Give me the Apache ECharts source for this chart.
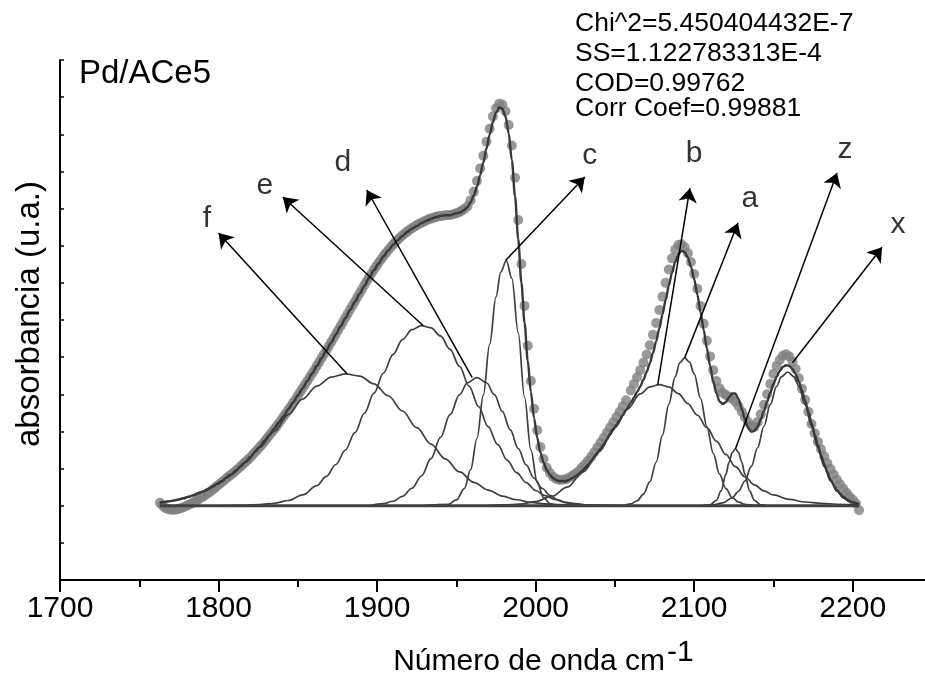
<!DOCTYPE html>
<html>
<head>
<meta charset="utf-8">
<script src="https://cdn.jsdelivr.net/npm/echarts@6/dist/echarts.min.js"></script>
<style>html,body{margin:0;padding:0;background:#fff}#c{width:925px;height:684px}</style>
</head>
<body>
<div id="c"></div>
<script>
// ---- measured spectrum (wavenumber cm-1, absorbance above baseline, arbitrary units) ----
const dataX = [
1763,1764.5,1766,1767.5,1769,1770.5,1772,1773.5,1775,1776.5,
1778,1779.5,1781,1782.5,1784,1785.5,1787,1788.5,1790,1791.5,
1793,1794.5,1796,1797.5,1799,1800.5,1802,1803.5,1805,1806.5,
1808,1809.5,1811,1812.5,1814,1815.5,1817,1818.5,1820,1821.5,
1823,1824.5,1826,1827.5,1829,1830.5,1832,1833.5,1835,1836.5,
1838,1839.5,1841,1842.5,1844,1845.5,1847,1848.5,1850,1851.5,
1853,1854.5,1856,1857.5,1859,1860.5,1862,1863.5,1865,1866.5,
1868,1869.5,1871,1872.5,1874,1875.5,1877,1878.5,1880,1881.5,
1883,1884.5,1886,1887.5,1889,1890.5,1892,1893.5,1895,1896.5,
1898,1899.5,1901,1902.5,1904,1905.5,1907,1908.5,1910,1911.5,
1913,1914.5,1916,1917.5,1919,1920.5,1922,1923.5,1925,1926.5,
1928,1929.5,1931,1932.5,1934,1935.5,1937,1938.5,1940,1941.5,
1943,1944.5,1946,1947.5,1949,1950.5,1952,1953.5,1955,
1957,1959,1961,1963,1965,1967,1969,1971,1973,1975,
1977,1979,1981,1983,1985,1987,1989,1991,1993,1995,
1997,1999,2001,2003,2005,2007,2009,2011,2013,2015,
2017,2019,2021,2023,2025,2027,2029,2031,2033,2035,
2037,2039,2041,2043,2045,2047,2049,2051,2053,2055,
2057,2060,2062,2064,2066,2068,2070,2072,2074,2076,
2078,2080,2082,2084,2086,2088,2090,2092,2094,2096,
2098,2100,2102,2104,2106,2108,2110,2112,2114,2116,
2118,2120,2122,2124,2126,2128,2130,2132,2134,2136,
2138,2140,2142,2144,2146,2148,2150,2152,2154,2156,
2158,2160,2162,2164,2166,2168,2170,2172,2174,2176,
2178,2180,2182,2184,2186,2188,2190,2192,2194,2196,
2198,2200,2202,2204];

const measured = [
0.08,0.01,-0.05,-0.08,-0.10,-0.11,-0.11,-0.10,-0.08,-0.06,
-0.04,-0.01,0.02,0.05,0.08,0.12,0.16,0.20,0.24,0.28,
0.33,0.37,0.42,0.47,0.53,0.58,0.63,0.68,0.74,0.79,
0.84,0.89,0.95,1.00,1.06,1.12,1.18,1.24,1.30,1.37,
1.44,1.51,1.58,1.65,1.73,1.81,1.89,1.97,2.05,2.13,
2.22,2.31,2.40,2.49,2.58,2.67,2.77,2.86,2.96,3.06,
3.16,3.26,3.36,3.46,3.56,3.66,3.77,3.87,3.98,4.08,
4.19,4.29,4.40,4.51,4.62,4.73,4.84,4.95,5.06,5.17,
5.28,5.39,5.50,5.61,5.72,5.83,5.94,6.05,6.15,6.25,
6.35,6.45,6.54,6.63,6.72,6.80,6.88,6.96,7.03,7.10,
7.16,7.22,7.28,7.33,7.38,7.43,7.47,7.51,7.55,7.59,
7.62,7.65,7.68,7.71,7.73,7.75,7.77,7.79,7.80,7.81,
7.82,7.82,7.83,7.84,7.86,7.88,7.91,7.95,7.99,
8.06,8.22,8.45,8.74,9.08,9.42,9.80,10.15,10.48,10.70,
10.82,10.80,10.62,10.25,9.70,8.83,7.69,6.51,5.38,4.31,
3.36,2.61,2.03,1.58,1.26,1.02,0.88,0.78,0.72,0.69,
0.70,0.71,0.75,0.80,0.86,0.93,1.02,1.11,1.21,1.32,
1.44,1.57,1.70,1.83,1.97,2.11,2.25,2.39,2.53,2.68,
2.84,3.10,3.28,3.46,3.65,3.85,4.07,4.32,4.60,4.92,
5.27,5.63,6.00,6.36,6.66,6.89,7.02,7.04,6.96,6.80,
6.56,6.24,5.84,5.38,4.90,4.44,4.02,3.65,3.36,3.16,
3.04,2.98,2.93,2.88,2.80,2.68,2.53,2.38,2.25,2.15,
2.12,2.25,2.46,2.72,3.00,3.28,3.55,3.77,3.93,4.04,
4.08,4.02,3.88,3.68,3.43,3.15,2.85,2.53,2.20,1.95,
1.72,1.52,1.33,1.15,0.99,0.84,0.70,0.58,0.46,0.35,
0.25,0.16,0.06,-0.12];

// ---- fitted envelope ----
const fitX = [
1763,1766,1769,1772,1775,1778,1781,1784,1787,1790,
1793,1796,1799,1802,1805,1808,1811,1814,1817,1820,
1823,1826,1829,1832,1835,1838,1841,1844,1847,1850,
1853,1856,1859,1862,1865,1868,1871,1874,1877,1880,
1883,1886,1889,1892,1895,1898,1901,1904,1907,1910,
1913,1916,1919,1922,1925,1928,1931,1934,1937,1940,
1943,1946,1949,1952,1955,
1957,1959,1961,1963,1965,1967,1969,1971,1973,1975,
1977,1979,1981,1983,1985,1987,1989,1991,1993,1995,
1997,1999,2001,2003,2005,2007,2009,2011,2013,2015,
2017,2019,2021,2023,2025,2027,2029,2031,2033,2035,
2037,2039,2041,2043,2045,2047,2049,2051,2053,2055,
2057,2060,2062,2064,2066,2068,2070,2072,2074,2076,
2078,2080,2082,2084,2086,2088,2090,2092,2094,2096,
2098,2100,2102,2104,2106,2108,2110,2112,2114,2116,
2118,2120,2122,2124,2126,2128,2130,2132,2134,2136,
2138,2140,2142,2144,2146,2148,2150,2152,2154,2156,
2158,2160,2162,2164,2166,2168,2170,2172,2174,2176,
2178,2180,2182,2184,2186,2188,2190,2192,2194,2196,
2198,2200,2202,2204];

const fitted = [
0.08,0.10,0.12,0.14,0.17,0.20,0.24,0.28,0.33,0.38,
0.44,0.50,0.58,0.66,0.75,0.84,0.95,1.06,1.18,1.31,
1.45,1.59,1.75,1.90,2.07,2.24,2.41,2.60,2.78,2.97,
3.16,3.36,3.56,3.76,3.97,4.18,4.39,4.61,4.83,5.05,
5.27,5.49,5.71,5.92,6.14,6.34,6.52,6.71,6.87,7.02,
7.15,7.26,7.37,7.46,7.53,7.61,7.67,7.72,7.77,7.80,
7.82,7.82,7.86,7.89,7.96,
8.04,8.17,8.35,8.59,8.90,9.24,9.62,9.99,10.33,10.58,
10.72,10.69,10.48,10.03,9.30,8.33,7.19,6.01,4.93,3.91,
3.06,2.36,1.83,1.43,1.16,0.96,0.83,0.74,0.69,0.66,
0.67,0.66,0.70,0.74,0.79,0.85,0.93,1.01,1.10,1.20,
1.31,1.42,1.54,1.66,1.79,1.92,2.05,2.18,2.31,2.44,
2.57,2.77,2.91,3.06,3.21,3.39,3.60,3.83,4.11,4.42,
4.77,5.15,5.54,5.93,6.27,6.56,6.77,6.86,6.83,6.68,
6.43,6.10,5.68,5.22,4.73,4.24,3.77,3.35,3.03,2.81,
2.74,2.79,2.92,3.02,3.02,2.87,2.61,2.33,2.10,1.99,
2.01,2.13,2.32,2.55,2.80,3.04,3.28,3.47,3.63,3.74,
3.78,3.76,3.68,3.54,3.34,3.10,2.82,2.53,2.22,1.92,
1.63,1.36,1.12,0.90,0.71,0.56,0.43,0.33,0.24,0.18,
0.13,0.09,0.07,0.05];

// ---- fitted component bands ----
const peakF = [[1763,0.08],[1772,0.14],[1781,0.24],[1790,0.38],[1799,0.58],[1808,0.84],[1817,1.17],[1826,1.57],[1835,2.00],[1844,2.45],[1853,2.87],[1862,3.22],[1871,3.46],[1880,3.55],[1889,3.49],[1898,3.28],[1907,2.96],[1916,2.55],[1925,2.10],[1934,1.66],[1943,1.26],[1952,0.91],[1961,0.63],[1970,0.42],[1979,0.26],[1988,0.16],[1997,0.09],[2006,0.05],[2015,0.03],[2025,0.013],[2040,0.004],[2060,0]];
const peakE = [[1800,0],[1817,0.01],[1826,0.03],[1835,0.065],[1844,0.14],[1853,0.29],[1862,0.54],[1868,0.79],[1874,1.11],[1880,1.50],[1886,1.97],[1892,2.49],[1898,3.03],[1904,3.57],[1910,4.07],[1916,4.47],[1922,4.74],[1928,4.85],[1934,4.79],[1940,4.57],[1946,4.21],[1952,3.75],[1958,3.22],[1964,2.67],[1970,2.13],[1976,1.65],[1982,1.23],[1988,0.89],[1994,0.62],[2000,0.41],[2006,0.27],[2012,0.17],[2018,0.10],[2025,0.054],[2033,0.025],[2045,0.007],[2060,0]];
const peakD = [[1895,0],[1904,0.055],[1910,0.12],[1916,0.25],[1922,0.47],[1928,0.80],[1934,1.27],[1940,1.84],[1946,2.45],[1952,2.99],[1957,3.31],[1963,3.45],[1969,3.31],[1974,2.99],[1979,2.54],[1984,2.04],[1989,1.54],[1994,1.10],[1999,0.74],[2004,0.47],[2009,0.28],[2014,0.16],[2020,0.07],[2027,0.027],[2035,0.007],[2050,0]];
const peakC = [[1930,0],[1945,0.04],[1950,0.155],[1955,0.46],[1959,0.97],[1963,1.81],[1967,2.98],[1971,4.35],[1975,5.62],[1978,6.29],[1981.5,6.6],[1985,6.12],[1989,4.66],[1993,2.92],[1997,1.50],[2001,0.63],[2005,0.22],[2009,0.06],[2013,0.014],[2020,0]];
const peakB = [[1970,0.005],[1980,0.02],[1990,0.044],[2000,0.111],[2010,0.25],[2020,0.50],[2030,0.91],[2040,1.46],[2050,2.11],[2058,2.61],[2066,3.01],[2072,3.20],[2078,3.26],[2084,3.20],[2090,3.02],[2096,2.75],[2102,2.44],[2108,2.10],[2114,1.74],[2120,1.38],[2126,1.05],[2132,0.78],[2138,0.56],[2144,0.40],[2150,0.29],[2160,0.17],[2170,0.10],[2180,0.065],[2190,0.04],[2204,0.015]];
const peakA = [[2055,0],[2060,0.05],[2064,0.13],[2068,0.31],[2072,0.64],[2076,1.17],[2080,1.90],[2084,2.73],[2088,3.47],[2091,3.85],[2094,3.98],[2097,3.87],[2100,3.55],[2104,2.89],[2108,2.13],[2112,1.41],[2116,0.85],[2120,0.46],[2124,0.22],[2128,0.098],[2132,0.039],[2138,0.008],[2145,0]];
const peakZ = [[2106,0],[2110,0.022],[2114,0.142],[2117,0.40],[2120,0.844],[2122,1.174],[2124,1.432],[2126,1.53],[2128,1.432],[2130,1.174],[2132,0.844],[2135,0.40],[2138,0.142],[2142,0.022],[2146,0]];
const peakX = [[2105,0],[2112,0.022],[2118,0.074],[2124,0.212],[2128,0.39],[2132,0.666],[2136,1.058],[2140,1.561],[2144,2.139],[2148,2.721],[2152,3.214],[2155,3.47],[2159,3.6],[2163,3.47],[2166,3.214],[2170,2.721],[2174,2.139],[2178,1.561],[2182,1.058],[2186,0.666],[2190,0.39],[2194,0.212],[2198,0.107],[2204,0.033]];
const baseline = [[1763,0],[2204,0]];

const peakNames = ['f','e','d','c','b','a','z','x'];
const statLines = ['Chi^2=5.450404432E-7','SS=1.122783313E-4','COD=0.99762','Corr Coef=0.99881'];

// ---- annotation geometry (data coordinates) ----
const arrowFrom = [[1881,3.55],[1929,4.85],[1960,3.45],[1981,6.6],[2077,3.26],[2094,3.98],[2126,1.53],[2162,3.85]];
const arrowTo   = [[1800,7.34],[1840.5,8.31],[1893.5,8.5],[2031,8.85],[2097.3,8.55],[2127.6,7.61],[2190.1,8.96],[2218.5,6.96]];
const labelAt   = [[1792.6,7.72],[1829.2,8.61],[1878.4,9.23],[2034.2,9.42],[2099.9,9.47],[2135.1,8.26],[2195.2,9.58],[2228.5,7.56]];

const FONT = "'Liberation Sans', Arial, Helvetica, sans-serif";
const chart = echarts.init(document.getElementById('c'), null, {renderer: 'canvas'});

const compStyle = {color: '#3f3f3f', width: 1.7};
function comp(data) {
  return {type: 'line', data: data, showSymbol: false, symbol: 'none', smooth: 0.35, smoothMonotone: 'x',
          lineStyle: compStyle, z: 3, silent: true};
}
function txt(x, y, t, size, align, rot) {
  return {type: 'text', x: x, y: y, rotation: rot || 0,
    style: {text: t, fontSize: size, fontFamily: FONT, fill: '#000',
      align: align, verticalAlign: 'middle', textAlign: align, textVerticalAlign: 'middle'}};
}

const option = {
  animation: false,
  backgroundColor: '#ffffff',
  grid: {left: 60, top: 60, width: 872, height: 520, containLabel: false, outerBoundsMode: 'none'},
  xAxis: {
    type: 'value', min: 1700, max: 2250, interval: 100,
    axisLine: {show: true, onZero: false, lineStyle: {color: '#000', width: 2}},
    axisTick: {show: true, inside: false, length: 12, lineStyle: {color: '#000', width: 2}},
    minorTick: {show: true, splitNumber: 2, length: 7, lineStyle: {color: '#000', width: 2}},
    axisLabel: {show: true, color: '#000', fontSize: 30, fontFamily: FONT, margin: 14,
                formatter: v => (v > 2200 ? '' : String(v))},
    splitLine: {show: false}
  },
  yAxis: {
    type: 'value', min: -2, max: 12, interval: 1,
    axisLine: {show: true, onZero: false, lineStyle: {color: '#000', width: 2}},
    axisTick: {show: true, inside: true, length: 4, lineStyle: {color: '#000', width: 1.5}},
    axisLabel: {show: false},
    splitLine: {show: false}
  },
  graphic: [
    txt(79, 74, 'Pd/ACe5', 33, 'left'),
    txt(30, 314, 'absorbancia (u.a.)', 33, 'center', Math.PI / 2),
    txt(665, 662, 'Número de onda cm', 30, 'right'),
    txt(667, 653, '-1', 30, 'left')
  ].concat(statLines.map((t, i) => txt(575, [23.5, 53.5, 84, 109][i], t, 26.5, 'left'))),
  series: [
    {type: 'scatter', name: 'data', data: dataX.map((x, i) => [x, measured[i]]),
     symbol: 'circle', symbolSize: 10, itemStyle: {color: '#7f7f7f'}, z: 1, silent: true},
    comp(peakF), comp(peakE), comp(peakD), comp(peakC), comp(peakB), comp(peakA), comp(peakZ), comp(peakX),
    {type: 'line', name: 'baseline', data: baseline, showSymbol: false, symbol: 'none',
     lineStyle: {color: '#404040', width: 3}, z: 3, silent: true,
     markLine: {
       silent: true, animation: false,
       symbol: ['none', 'arrow'], symbolSize: 14,
       lineStyle: {type: 'solid', color: '#000', width: 1.5},
       itemStyle: {color: '#000'},
       label: {show: false},
       data: arrowFrom.map((p, i) => [{coord: p}, {coord: arrowTo[i]}])
     }},
    {type: 'line', name: 'fit', data: fitX.map((x, i) => [x, fitted[i]]), showSymbol: false, symbol: 'none',
     smooth: 0.3, smoothMonotone: 'x', lineStyle: {color: '#383838', width: 2.4}, z: 4, silent: true},
    {type: 'scatter', name: 'labels', data: labelAt.map((p, i) => ({value: p, name: peakNames[i]})),
     symbolSize: 1, itemStyle: {color: 'rgba(0,0,0,0)'}, z: 5, silent: true,
     label: {show: true, position: 'inside', formatter: p => p.name, fontSize: 30, fontFamily: FONT, color: '#000'}}
  ]
};
chart.setOption(option);
</script>
</body>
</html>
